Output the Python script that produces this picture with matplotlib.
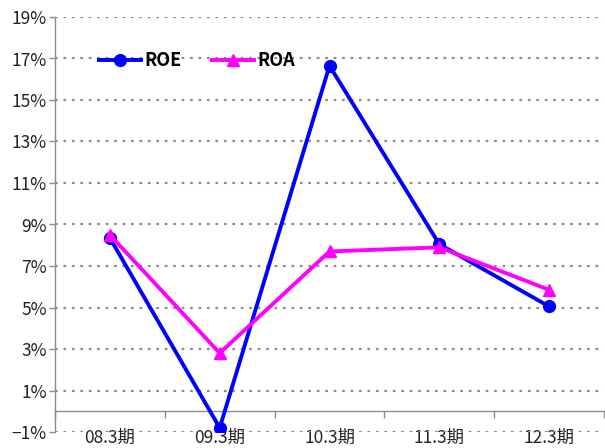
# -*- coding: utf-8 -*-
"""ROE / ROA 推移グラフ"""
import matplotlib
matplotlib.use('Agg')
import matplotlib.pyplot as plt
import matplotlib.ticker as mticker
import numpy as np

plt.rcParams['font.family'] = ['Noto Sans CJK JP', 'DejaVu Sans']
plt.rcParams['axes.unicode_minus'] = False

# データ
periods = ['08.3期', '09.3期', '10.3期', '11.3期', '12.3期']
roe = [8.35, -0.8, 16.65, 8.05, 5.05]
roa = [8.5, 2.8, 7.7, 7.9, 5.85]
y_ticks = [-1, 1, 3, 5, 7, 9, 11, 13, 15, 17, 19]

fig = plt.figure(figsize=(6.05, 4.48), dpi=100)
ax = fig.add_axes([55 / 605, 1 - 432 / 448, 549 / 605, 415 / 448])

x = np.arange(len(periods))
ax.plot(x, roe, color='#0000ff', linewidth=2.8, marker='o', markersize=8.5,
        label='ROE', zorder=3)
ax.plot(x, roa, color='#ff00ff', linewidth=2.8, marker='^', markersize=9,
        label='ROA', zorder=4)

ax.set_xlim(-0.5, len(periods) - 0.5)
ax.set_ylim(-1, 19)

# 目盛・グリッド
ax.set_yticks(y_ticks)
ax.yaxis.set_major_formatter(mticker.FuncFormatter(
    lambda v, p: f'{int(v)}%'.replace('-', '−')))
ax.grid(True, axis='y', color='#8c8c8c', linewidth=1.6, linestyle=(0, (1.2, 2.6)))
ax.set_axisbelow(True)

ax.set_xticks(x)
ax.set_xticklabels(periods)
ax.set_xticks(np.arange(len(periods) + 1) - 0.5, minor=True)
ax.tick_params(axis='x', which='major', length=0, pad=13, labelsize=12.5, colors='#222222')
ax.tick_params(axis='x', which='minor', length=5, width=1, color='#8c8c8c', direction='out')
ax.tick_params(axis='y', length=4, width=1, labelsize=12.5, pad=2,
               colors='#8c8c8c', labelcolor='#222222')

for side in ['top', 'right']:
    ax.spines[side].set_visible(False)
ax.spines['bottom'].set_position(('data', 0))
ax.spines['bottom'].set_color('#8c8c8c')
ax.spines['left'].set_color('#8c8c8c')
ax.spines['bottom'].set_linewidth(1)
ax.spines['left'].set_linewidth(1)

leg = ax.legend(loc='center left', bbox_to_anchor=(44 / 549, 17.9 / 20), ncol=2,
                frameon=False, handlelength=2.3, handletextpad=0.2, columnspacing=1.7,
                borderaxespad=0, borderpad=0, prop={'weight': 'bold', 'size': 13})

plt.savefig('out.png', dpi=100)
plt.close()
